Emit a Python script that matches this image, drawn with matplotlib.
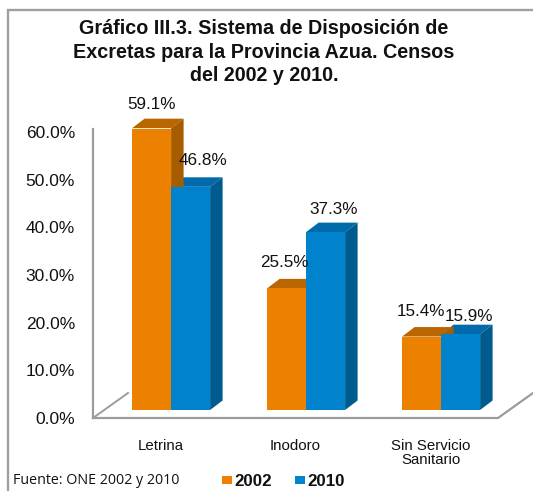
import numpy as np
import matplotlib
matplotlib.use("Agg")
import matplotlib.pyplot as plt
from matplotlib.lines import Line2D
from matplotlib.patches import Rectangle

plt.rcParams['font.family'] = ['Liberation Sans', 'DejaVu Sans']

# datos
categorias = ["Letrina", "Inodoro", "Sin Servicio\nSanitario"]
valores_2002 = [59.1, 25.5, 15.4]
valores_2010 = [46.8, 37.3, 15.9]
yticks = [0, 10, 20, 30, 40, 50, 60]

titulo = "Gráfico III.3. Sistema de Disposición de\nExcretas para la Provincia Azua. Censos\ndel 2002 y 2010."
fuente = "Fuente: ONE 2002 y 2010"

# colores: frente, arriba, lado
naranja = ("#EC8100", "#BA6600", "#A85C00")
azul = ("#0083CC", "#006AAB", "#005B8E")
gris = "#9C9C9C"

W, H = 533, 491
fig = plt.figure(figsize=(W / 100, H / 100), dpi=100)

# ejes en pixeles de la imagen
izq, der, abajo, arriba = 93, 498, 418, 129
ax = fig.add_axes([izq / W, 1 - abajo / H, (der - izq) / W, (abajo - arriba) / H])
ax.set_xlim(-0.5, 2.5)
ax.set_ylim(0, 60.6)
ax.patch.set_alpha(0)

px_x = 3 / (der - izq)               # unidades x por pixel
px_y = 60.6 / (abajo - arriba)       # unidades y por pixel

ancho = 39 * px_x
desp = 10.6 * px_x      # barras corridas respecto a la etiqueta
base = 8 * px_y         # la base de las barras queda sobre el piso
dx, dy = 12.5 * px_x, 9.5 * px_y


def barra3d(x0, valor, colores):
    alto = valor
    ax.bar(x0, alto, ancho, bottom=base, align='edge', color=colores[0],
           linewidth=0, zorder=3)
    ax.fill([x0, x0 + dx, x0 + ancho + dx, x0 + ancho],
            [base + alto, base + alto + dy, base + alto + dy, base + alto],
            color=colores[1], linewidth=0, zorder=2, clip_on=False)
    ax.fill([x0 + ancho, x0 + ancho + dx, x0 + ancho + dx, x0 + ancho],
            [base, base + dy, base + alto + dy, base + alto],
            color=colores[2], linewidth=0, zorder=2, clip_on=False)


pos = np.arange(len(categorias))
for i in pos:
    # azul primero para que el lado naranja quede encima
    barra3d(i + desp, valores_2010[i], azul)
    barra3d(i + desp - ancho, valores_2002[i], naranja)

# piso y pared
prof_x, prof_y = 35 * px_x, 25 * px_y
ax.plot([-0.5, 2.5, 2.5 + prof_x], [0, 0, prof_y], color=gris, lw=1.6,
        clip_on=False, zorder=1, solid_joinstyle='miter')
ax.plot([-0.5, -0.5 + prof_x], [0, prof_y], color=gris, lw=1.4, clip_on=False, zorder=1)
ax.plot([-0.5, -0.5], [0, 60.6], color=gris, lw=1.6, clip_on=False, zorder=1)

# etiquetas de valor, corrimiento en pixeles a mano
corr_2002 = [(0, 24), (-2, 26), (-1, 25)]
corr_2010 = [(12, 26), (8, 23), (8, 18)]
for i in pos:
    x1 = i + desp - ancho / 2
    x2 = i + desp + ancho / 2
    ax.annotate("%.1f%%" % valores_2002[i], (x1, valores_2002[i] + base), xytext=corr_2002[i],
                textcoords='offset pixels', ha='center', va='center', fontsize=12.3,
                color="#111111", zorder=5, annotation_clip=False)
    ax.annotate("%.1f%%" % valores_2010[i], (x2, valores_2010[i] + base), xytext=corr_2010[i],
                textcoords='offset pixels', ha='center', va='center', fontsize=12.3,
                color="#111111", zorder=5, annotation_clip=False)

for s in ax.spines.values():
    s.set_visible(False)

ax.set_yticks(yticks)
ax.set_yticklabels(["%.1f%%" % v for v in yticks], fontsize=12.5, color="#111111")
ax.set_xticks(pos)
ax.set_xticklabels(categorias, fontsize=10.8, color="#111111", linespacing=1.05)
ax.tick_params(axis='both', length=0)
ax.tick_params(axis='y', pad=13)
ax.tick_params(axis='x', pad=15)

# titulo
fig.text(264 / W, 1 - 52 / H, titulo, ha='center', va='center', fontsize=14.2,
         fontweight='bold', color="#111111", linespacing=1.3)

# fuente y leyenda
fig.text(13 / W, 1 - 480 / H, fuente, ha='left', va='center', fontsize=10.3,
         family=['Open Sans', 'DejaVu Sans'], color="#111111")
for xp, nombre, col in [(222, "2002", naranja[0]), (295, "2010", azul[0])]:
    fig.add_artist(Rectangle((xp / W, 1 - 484 / H), 9.5 / W, 8.5 / H,
                             transform=fig.transFigure, color=col, linewidth=0))
    fig.text((xp + 12.5) / W, 1 - 481 / H, nombre, ha='left', va='center', fontsize=12.2,
             fontweight='bold', color="#111111")

# marco gris de la imagen
fig.add_artist(Line2D([7.5 / W, 7.5 / W, 1], [0, 1 - 10 / H, 1 - 10 / H],
                      transform=fig.transFigure, color="#A0A0A0", lw=1.7,
                      solid_joinstyle='miter'))

fig.savefig("out.png", dpi=100)
